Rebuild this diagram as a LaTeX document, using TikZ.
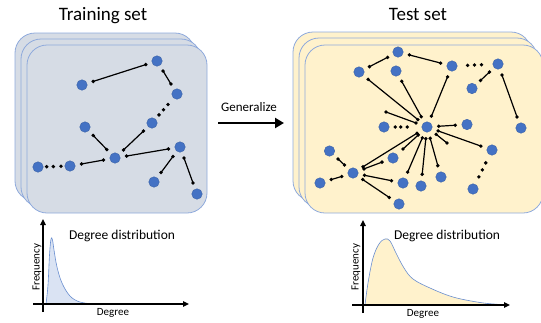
\documentclass[tikz,border=0pt]{standalone}
\usepackage{fontspec}
\setmainfont{Carlito}
\usetikzlibrary{arrows.meta}
\usetikzlibrary{positioning}

\definecolor{nodeblue}{HTML}{4472C4}
\definecolor{framecol}{HTML}{8FAADC}
\definecolor{trainfill}{HTML}{D6DCE5}
\definecolor{testfill}{HTML}{FFF2CC}
\definecolor{peakfill}{HTML}{DAE3F3}

% one connector with a small dot at each end
\newcommand{\linkdots}[2]{\path[link] (#1) edge node[gapdot,pos=0]{} node[gapdot,pos=1]{} (#2);}

\begin{document}
\begin{tikzpicture}[x=1pt,y=-1pt,>={Triangle[length=6pt,width=5.5pt]},
  vtx/.style={circle,fill=nodeblue,draw=nodeblue!85!black,line width=0.4pt,inner sep=0pt,minimum size=10.5pt,outer sep=6.5pt},
  link/.style={line width=1.2pt},
  gapdot/.style={circle,fill=black,inner sep=0pt,minimum size=3.8pt},
  card/.style={draw=framecol,line width=0.8pt,rounded corners=20pt},
  axis/.style={->,line width=1.3pt},
  curve/.style={draw=nodeblue!80!white,line width=0.6pt},
  title/.style={font=\fontsize{19}{22}\selectfont,anchor=base},
  label/.style={font=\fontsize{13.5}{16}\selectfont,anchor=base},
  small/.style={font=\fontsize{11}{13}\selectfont,anchor=base}]
\useasboundingbox (0,0) rectangle (541,322);

% training set
\path node[title] (trtitle) at (103,20) {Training set};
\draw[card,fill=trainfill] (15,33) rectangle (195,201);
\draw[card,fill=trainfill] (21,39) rectangle (201,207);
\draw[card,fill=trainfill] (27,45) rectangle (207,213);

\path node[vtx] (n1) at (157,61) {};
\path node[vtx] (n2) at (82,85) {};
\path node[vtx] (n3) at (177,94) {};
\path node[vtx] (n4) at (152,123) {};
\path node[vtx] (n5) at (85,127) {};
\path node[vtx] (n6) at (115,158) {};
\path node[vtx] (n7) at (70,166) {};
\path node[vtx] (n8) at (38,167) {};
\path node[vtx] (n9) at (180,147) {};
\path node[vtx] (n10) at (154,182) {};
\path node[vtx] (n11) at (197,194) {};

\linkdots{n2}{n1} \linkdots{n1}{n3} \linkdots{n4}{n6} \linkdots{n5}{n6}
\linkdots{n7}{n6} \linkdots{n6}{n9} \linkdots{n9}{n10} \linkdots{n9}{n11}
\path (n4.center) -- node[gapdot,pos=.28]{} node[gapdot,pos=.46]{} node[gapdot,pos=.64]{} (n3.center);
\path (n8.center) -- node[gapdot,pos=.27]{} node[gapdot,pos=.48]{} node[gapdot,pos=.72]{} (n7.center);

% generalize
\path node[label,font=\fontsize{13}{15}\selectfont] (gen) at (249,111.5) {Generalize};
\coordinate (g1) at (218,123);
\coordinate (g2) at (284,123);
\draw[-{Triangle[length=9pt,width=10pt]},line width=2.7pt] (g1) -- (g2);

% test set
\path node[title] (tstitle) at (418,20) {Test set};
\draw[card,fill=testfill] (293,32) rectangle (531,201);
\draw[card,fill=testfill] (299,38) rectangle (537,207);
\draw[card,fill=testfill] (305,45) rectangle (543,213);

\path node[vtx] (m1) at (398,52) {};
\path node[vtx] (m2) at (359,72) {};
\path node[vtx] (m3) at (396,71) {};
\path node[vtx] (m4) at (452,66) {};
\path node[vtx] (m5) at (498,64) {};
\path node[vtx] (m6) at (472,88.5) {};
\path node[vtx] (hub) at (427,127) {};
\path node[vtx] (m7) at (384,127) {};
\path node[vtx] (m8) at (467,124.5) {};
\path node[vtx] (m9) at (521,128) {};
\path node[vtx] (m10) at (492,150) {};
\path node[vtx] (m11) at (329.5,151) {};
\path node[vtx] (m12) at (353,173) {};
\path node[vtx] (m13) at (320,183) {};
\path node[vtx] (m14) at (393,158) {};
\path node[vtx] (m15) at (403,183) {};
\path node[vtx] (m16) at (421,186) {};
\path node[vtx] (m17) at (441,177) {};
\path node[vtx] (m18) at (473,189) {};
\path node[vtx] (m19) at (399,204) {};
\coordinate (d1) at (386,112);
\coordinate (d2) at (447,143);
\coordinate (d3) at (403,149);

\linkdots{m2}{m1} \linkdots{m1}{m4} \linkdots{m6}{m5} \linkdots{m5}{m9}
\linkdots{m2}{hub} \linkdots{m3}{hub} \linkdots{m4}{hub} \linkdots{hub}{m8}
\linkdots{hub}{m10} \linkdots{hub}{m12} \linkdots{hub}{m15} \linkdots{hub}{m16}
\linkdots{hub}{m17} \linkdots{m11}{m12} \linkdots{m13}{m12} \linkdots{m12}{m14}
\linkdots{m12}{m15} \linkdots{m12}{m19}
\linkdots{hub}{d1} \linkdots{hub}{d2} \linkdots{hub}{d3}
\path (m4.center) -- node[gapdot,pos=.34]{} node[gapdot,pos=.49]{} node[gapdot,pos=.64]{} (m5.center);
\path (m7.center) -- node[gapdot,pos=.26]{} node[gapdot,pos=.39]{} node[gapdot,pos=.54]{} (hub.center);
\path (m10.center) -- node[gapdot,pos=.33]{} node[gapdot,pos=.51]{} node[gapdot,pos=.69]{} (m18.center);

% degree distributions
\draw[curve,fill=peakfill] plot[smooth,tension=.6] coordinates
  {(46,304) (48,285) (49.5,255) (51,239) (52.5,240) (54,250) (57,267) (62,283) (70,296) (80,302) (95,304) (110,304)};
\draw[axis] (43,312) -- (43,219);
\draw[axis] (33,304) -- (189,304);
\path node[label] (trdist) at (122,239) {Degree distribution};
\path node[small,rotate=90,anchor=center] (trfreq) at (37,267) {Frequency};
\path node[small] (trdeg) at (113,315) {Degree};

\draw[curve,fill=testfill] plot[smooth,tension=.6] coordinates
  {(365,305) (368,283) (373,258) (379,244) (385,239) (390,241) (396,253) (404,268) (413,279) (430,288) (453,297) (480,302.5) (500,304.5) (506,305)};
\draw[axis] (363,313) -- (363,220);
\draw[axis] (352,305) -- (510,305);
\path node[label] (tsdist) at (447,239) {Degree distribution};
\path node[small,rotate=90,anchor=center] (tsfreq) at (356,267) {Frequency};
\path node[small] (tsdeg) at (423,316) {Degree};
\end{tikzpicture}
\end{document}
